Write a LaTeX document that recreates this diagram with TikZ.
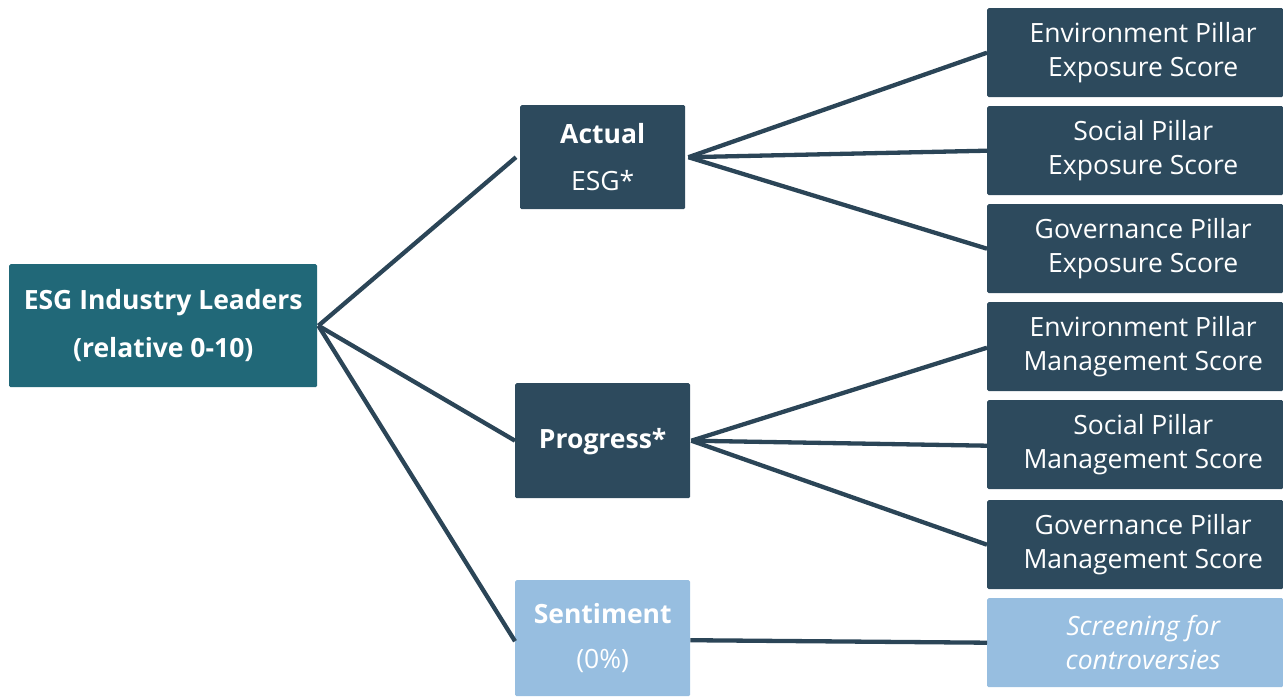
\documentclass[tikz,border=0pt]{standalone}
\usepackage{fontspec}
\setmainfont{Open Sans}
\definecolor{teal}{HTML}{216878}
\definecolor{dark}{HTML}{2D4A5D}
\definecolor{light}{HTML}{97BEE0}
\definecolor{linec}{HTML}{2B4557}
\tikzset{
  box/.style={rectangle, rounded corners=1.5pt, inner sep=0pt, text=white, align=center, anchor=north west},
  conn/.style={draw=linec, line width=4.3pt},
}
\begin{document}
\begin{tikzpicture}[x=1pt,y=-1pt]
\useasboundingbox (0,0) rectangle (1283,697);
% root
\node[box, fill=teal, minimum width=308pt, minimum height=123pt, font=\fontsize{26.5}{48}\selectfont\bfseries] (root) at (9,264) {ESG Industry Leaders\\(relative 0-10)};
% middle
\node[box, fill=dark, minimum width=165pt, minimum height=104pt, font=\fontsize{26.5}{47}\selectfont] (actual) at (520,105) {\textbf{Actual}\\ESG*};
\node[box, fill=dark, minimum width=175pt, minimum height=115pt, text height=21pt, font=\fontsize{26.5}{47}\selectfont\bfseries] (progress) at (515,383) {Progress*};
\node[box, fill=light, minimum width=175pt, minimum height=116pt, font=\fontsize{26.5}{45}\selectfont] (sent) at (515,580) {\textbf{Sentiment}\\(0\%)};
% right
\tikzset{rbox/.style={box, minimum width=296pt, minimum height=89pt, font=\fontsize{26.5}{33.5}\selectfont}}
\node[rbox, fill=dark] (r1) at (987,8) {\hspace*{16pt}Environment Pillar\\\hspace*{16pt}Exposure Score};
\node[rbox, fill=dark] (r2) at (987,106) {\hspace*{16pt}Social Pillar\\\hspace*{16pt}Exposure Score};
\node[rbox, fill=dark] (r3) at (987,204) {\hspace*{16pt}Governance Pillar\\\hspace*{16pt}Exposure Score};
\node[rbox, fill=dark] (r4) at (987,302) {\hspace*{16pt}Environment Pillar\\\hspace*{16pt}Management Score};
\node[rbox, fill=dark] (r5) at (987,400) {\hspace*{16pt}Social Pillar\\\hspace*{16pt}Management Score};
\node[rbox, fill=dark] (r6) at (987,500) {\hspace*{16pt}Governance Pillar\\\hspace*{16pt}Management Score};
\node[rbox, fill=light, font=\fontsize{26.5}{33.5}\selectfont\itshape] (r7) at (987,598) {\hspace*{16pt}Screening for\\\hspace*{16pt}controversies};
% connectors
\coordinate (rootR) at ([xshift=1pt]root.east);
\draw[conn] (rootR) -- ([xshift=-4pt]actual.west);
\draw[conn] (rootR) -- (progress.west);
\draw[conn] (rootR) -- ([yshift=-3pt]sent.west);
\coordinate (aR) at ([xshift=3pt]actual.east);
\draw[conn] (aR) -- (r1.west);
\draw[conn] (aR) -- (r2.west);
\draw[conn] (aR) -- (r3.west);
\coordinate (pR) at ([xshift=1pt]progress.east);
\draw[conn] (pR) -- ([yshift=-1pt]r4.west);
\draw[conn] (pR) -- ([yshift=-1pt]r5.west);
\draw[conn] (pR) -- (r6.west);
\draw[conn] ([yshift=-2pt]sent.east) -- (r7.west);
\end{tikzpicture}
\end{document}
